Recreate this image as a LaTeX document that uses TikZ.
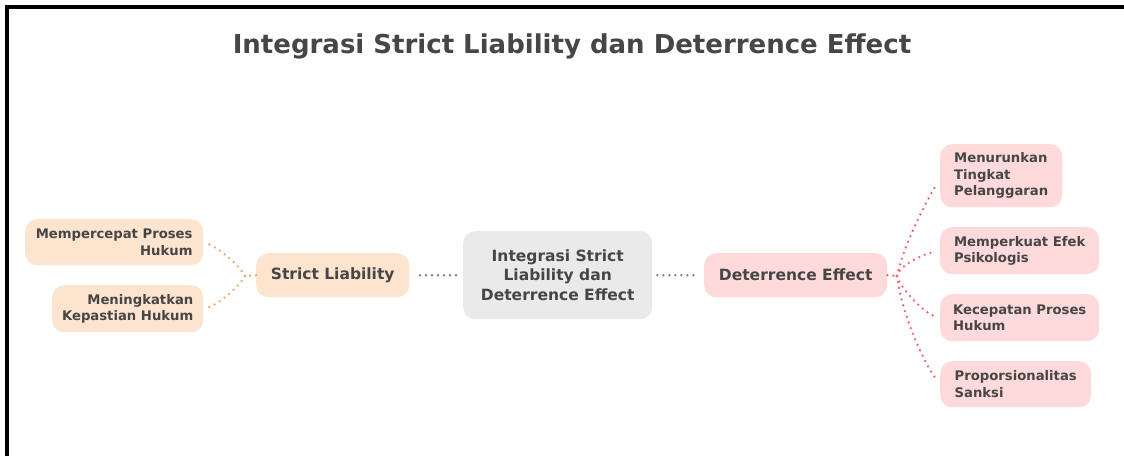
\documentclass[tikz,border=0pt]{standalone}
\usepackage{xcolor}
\usepackage{fontspec}
\setmainfont{DejaVu Sans}
\usepackage{tikz}
\usetikzlibrary{calc,positioning}

\definecolor{inkgray}{RGB}{70,70,70}
\definecolor{peachfill}{RGB}{253,228,206}
\definecolor{pinkfill}{RGB}{255,218,218}
\definecolor{hubfill}{RGB}{234,234,234}
\definecolor{peachdot}{RGB}{245,165,105}
\definecolor{pinkdot}{RGB}{240,100,112}
\definecolor{hubdot}{RGB}{125,125,125}

\begin{document}
\begin{tikzpicture}[x=1pt,y=-1pt,dotline/.style = {line width=2.6pt,line cap=round,dash pattern=on 0pt off 6pt}]
					\tikzset{box/.style={rounded corners=12pt,inner sep=0pt,anchor=north west,text=inkgray,font=\bfseries\fontsize{13.2}{16.5}\selectfont}}
					\tikzset{bigbox/.style={box,align=center,font=\bfseries\fontsize{15.5}{19.5}\selectfont}}

					\useasboundingbox (0,0) rectangle (1124,456);
					\fill[white] (0,0) rectangle (1124,456);
					\draw[line width=4pt] (7,456) -- (7,7) -- (1124,7);

					% Title
					\node[text=inkgray, font=\bfseries\fontsize{26}{30}\selectfont] (title) at (572,46) {Integrasi Strict Liability dan Deterrence Effect};

					% Center
					\node[bigbox, fill=hubfill, minimum width=189, minimum height=88] (hub) at (463,231) {Integrasi Strict\\Liability dan\\Deterrence Effect};

					% Strict liability side
					\node[bigbox, fill=peachfill, minimum width=153, minimum height=44] (strict) at (256,253) {Strict Liability};
					\node[box, fill=peachfill, minimum width=178, minimum height=46, align=right] (fast) at (25,219) {Mempercepat Proses\\Hukum};
					\node[box, fill=peachfill, minimum width=151, minimum height=47, align=right] (certain) at (52,285) {Meningkatkan\\Kepastian Hukum};

					% Deterrence side
					\node[bigbox, fill=pinkfill, minimum width=183, minimum height=44] (deter) at (704,253) {Deterrence Effect};
					\node[box, fill=pinkfill, minimum width=122, minimum height=63, align=left] (lower) at (940,144) {Menurunkan\\Tingkat\\Pelanggaran};
					\node[box, fill=pinkfill, minimum width=159, minimum height=47, align=left] (psych) at (940,227) {Memperkuat Efek\\Psikologis};
					\node[box, fill=pinkfill, minimum width=159, minimum height=47, align=left] (speed) at (940,294) {Kecepatan Proses\\Hukum};
					\node[box, fill=pinkfill, minimum width=151, minimum height=46, align=left] (prop) at (940,361) {Proporsionalitas\\Sanksi};

					\coordinate (sj) at (245,276);
					\coordinate (dj) at (897,276);

					% connectors
					\draw[dotline, hubdot, shorten <=7pt, shorten >=5pt] (hub.west) -- (strict.east);
					\draw[dotline, hubdot, shorten <=5pt, shorten >=5pt] (hub.east) -- (deter.west);

					\draw[dotline, peachdot] (strict.west) -- (sj);
					\draw[dotline, peachdot, shorten >=3pt] (sj) .. controls +(-5,-10) and +(15,5) .. (fast.east);
					\draw[dotline, peachdot, shorten >=3pt] (sj) .. controls +(-5,10) and +(15,-4) .. (certain.east);

					\draw[dotline, pinkdot] (deter.east) -- (dj);
					\draw[dotline, pinkdot, shorten >=6pt] (dj) .. controls +(8,-35) and +(-14,25) .. ($(lower.west)+(0,2)$);
					\draw[dotline, pinkdot, shorten >=6pt] (dj) .. controls +(3,-12) and +(-15,3) .. (psych.west);
					\draw[dotline, pinkdot, shorten >=3pt] (dj) .. controls +(3,12) and +(-15,-3) .. (speed.west);
					\draw[dotline, pinkdot, shorten >=8pt] (dj) .. controls +(5,40) and +(-15,-20) .. (prop.west);

				\end{tikzpicture}
\end{document}
